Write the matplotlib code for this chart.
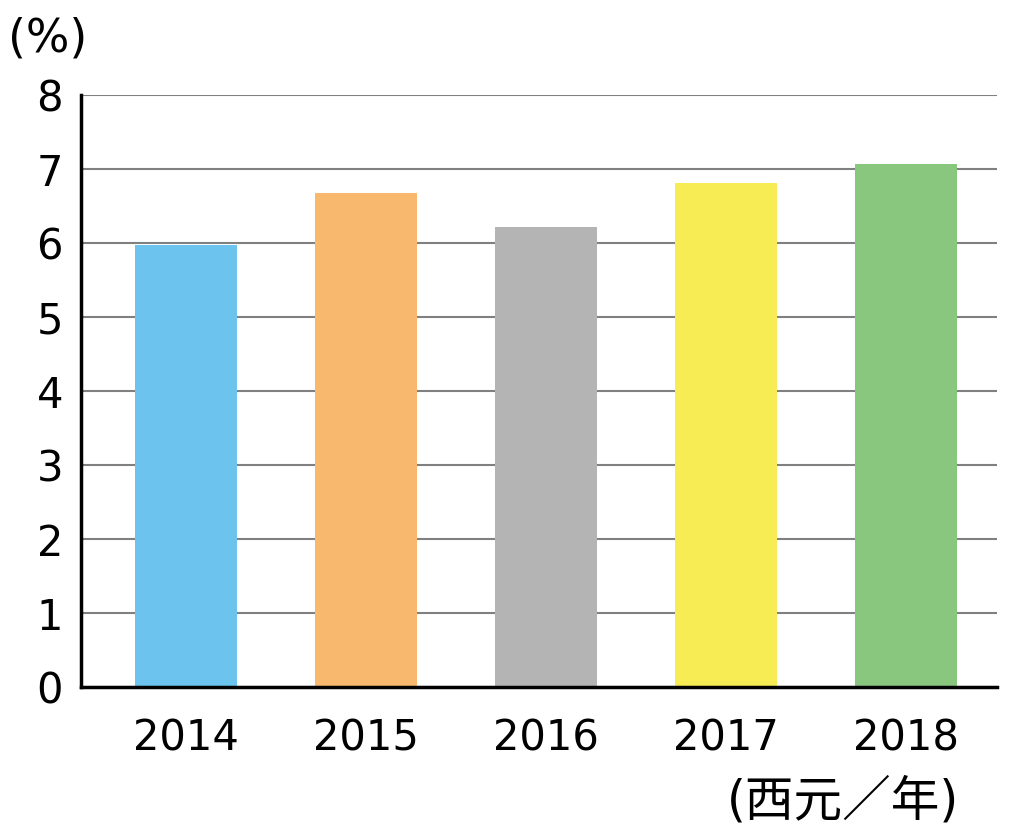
import matplotlib.pyplot as plt

plt.rcParams['font.family'] = ['DejaVu Sans', 'Noto Sans CJK JP']

years = ['2014', '2015', '2016', '2017', '2018']
values = [5.97, 6.67, 6.21, 6.81, 7.07]
colors = ['#6CC3ED', '#F8B96E', '#B4B4B5', '#F8EC55', '#89C77F']

fig = plt.figure(figsize=(10.24, 8.35), dpi=100)
ax = fig.add_axes([0.0791, 0.1772, 0.8945, 0.709])

ax.bar(range(len(years)), values, width=0.567, color=colors, zorder=3)

ax.set_ylim(0, 8)
ax.set_xlim(-0.583, 4.506)
ax.set_yticks(range(0, 9))
ax.set_xticks(range(len(years)))
ax.set_xticklabels(years)
ax.yaxis.grid(True, color='#808080', linewidth=1.5, zorder=0)
ax.tick_params(axis='both', length=0, labelsize=30)
ax.tick_params(axis='y', pad=13)
ax.tick_params(axis='x', pad=22)

for s in ['top', 'right']:
    ax.spines[s].set_visible(False)
ax.spines['left'].set_linewidth(2.5)
ax.spines['bottom'].set_linewidth(2.5)
ax.spines['left'].set_zorder(4)
ax.spines['bottom'].set_zorder(4)

fig.text(0.008, 0.953, '(%)', fontsize=33, ha='left', va='center')
fig.text(0.710, 0.04, '(西元／年)', fontsize=35, ha='left', va='center')

fig.savefig('out.png', dpi=100)
